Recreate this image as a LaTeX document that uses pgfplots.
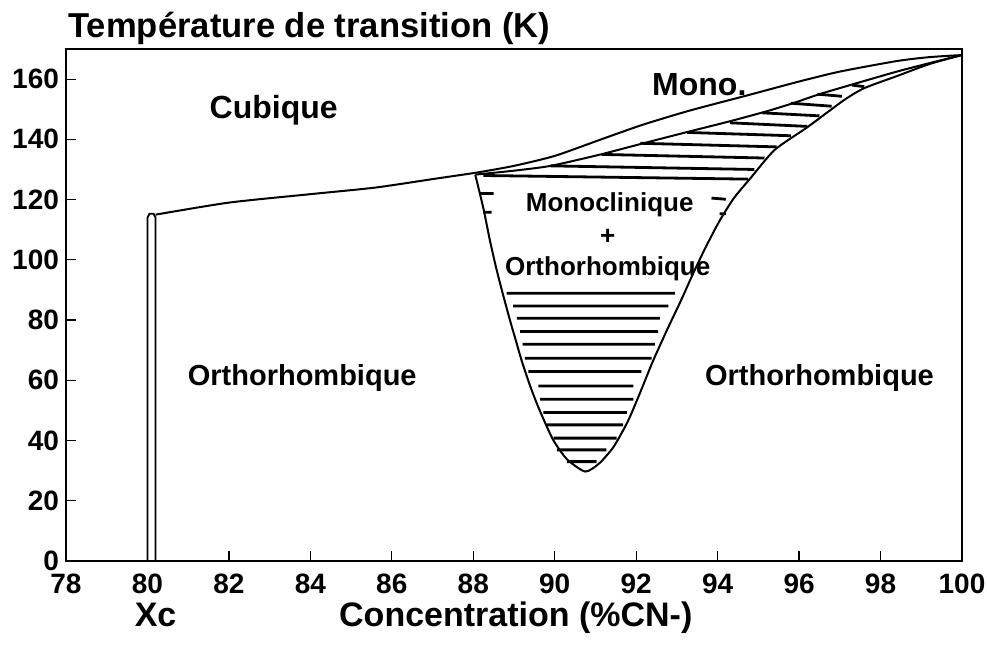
\documentclass[border=0pt]{standalone}
\usepackage{fontspec}
\setmainfont{Liberation Sans}
\usepackage{pgfplots}
\pgfplotsset{compat=1.18}

\newcommand{\fs}[1]{\fontsize{#1}{#1}\selectfont}

\begin{document}
\begin{tikzpicture}
\begin{axis}[
  scale only axis,
  width=448pt, height=256pt,
  xmin=78, xmax=100, ymin=0, ymax=170,
  xtick={78,80,...,100}, ytick={0,20,...,160},
  xtick pos=bottom, ytick pos=left,
  tick align=inside, major tick length=5pt,
  axis line style={line width=0.6pt},
  tick style={line width=0.6pt, black},
  /pgf/number format/assume math mode=true,
  ticklabel style={font=\bfseries\fs{14}},
  xticklabel style={yshift=-3pt},
  clip=false,
  every axis title shift=0pt,
  title={Température de transition (K)},
  title style={at={(0,1)}, anchor=base west, yshift=5.5pt, xshift=1pt,
    inner sep=0pt, font=\bfseries\fs{17.3}},
  xlabel={Concentration (\%CN-)},
  xlabel style={at={(axis description cs:0.502,0)}, anchor=base,
    yshift=-32.5pt, inner sep=0pt, font=\bfseries\fs{17}},
]
% Xc double line
\addplot[black, line width=0.9pt] coordinates {
  (80.0,0) (80.0,114) (80.05,115.3) (80.15,115.3) (80.2,114) (80.2,0)
};
% cubic boundary
\addplot[black, line width=1pt, smooth, tension=0.4] coordinates {
  (80.2,115) (82,119) (84,121.8) (85.6,124) (87.1,127) (88.1,129)
  (89,131.2) (90,134.5) (91.1,139.8) (92.15,144.8) (93.3,149.5)
  (94.7,154.5) (96,159.2) (97,162.5) (98.4,166) (99.2,167.3) (100,168)
};
% lower limit of monoclinic
\addplot[black, line width=1pt, smooth, tension=0.4] coordinates {
  (88.05,128.3) (89,129.6) (89.9,131.2) (91.1,134.9) (92.15,138.6)
  (93.3,142.6) (94.3,146) (95.2,149.3) (95.85,152) (96.5,155)
  (97.3,158.2) (98.4,162.5) (99.2,165.3) (100,168)
};
% two-phase region boundary
\addplot[black, line width=1pt, smooth, tension=0.4] coordinates {
  (88.05,128.2) (88.25,117) (88.4,107) (88.55,98) (88.7,90) (88.9,80)
  (89.05,73) (89.2,66) (89.4,58) (89.6,51) (89.95,40.5) (90.3,33.8)
  (90.75,29.7) (91.1,32.5) (91.45,38) (91.8,46.5) (92.1,56) (92.4,66)
  (92.75,76.5) (93.1,86.5) (93.4,95.5) (93.7,104) (94.05,113)
  (94.4,120.5) (94.8,127) (95.4,136.5) (96.2,144) (97.1,153)
  (97.6,157) (98.4,161) (99.2,165) (100,168)
};
% hatching
\addplot[black, line width=1.4pt, unbounded coords=jump] coordinates {
  (88.25,128) (94.75,126.8) (0,nan)
  (89.9,131.2) (94.9,130) (0,nan)
  (91.15,135) (95.15,133.8) (0,nan)
  (92.1,138.7) (95.45,137.5) (0,nan)
  (93.25,142.3) (95.8,141.2) (0,nan)
  (94.3,145.5) (96.2,144.3) (0,nan)
  (95.1,148.8) (96.5,147.8) (0,nan)
  (95.8,152) (96.8,151) (0,nan)
  (96.45,155) (97.05,154.3) (0,nan)
  (97.3,158) (97.6,157.5) (0,nan)
  (88.17,122) (88.5,122) (0,nan)
  (88.25,115.8) (88.45,115.8) (0,nan)
  (93.85,120.5) (94.2,120.1) (0,nan)
  (94.05,115.3) (94.2,115.3) (0,nan)
  (88.82,88.9) (92.95,88.9) (0,nan)
  (88.98,84.7) (92.79,84.7) (0,nan)
  (89.07,80.6) (92.58,80.6) (0,nan)
  (89.15,76.2) (92.54,76.2) (0,nan)
  (89.21,72.0) (92.46,72.0) (0,nan)
  (89.27,67.3) (92.38,67.3) (0,nan)
  (89.35,62.9) (92.13,62.9) (0,nan)
  (89.6,58.1) (91.93,58.1) (0,nan)
  (89.64,53.7) (91.93,53.7) (0,nan)
  (89.72,49.3) (91.77,49.3) (0,nan)
  (89.8,45.2) (91.68,45.2) (0,nan)
  (89.97,40.8) (91.52,40.8) (0,nan)
  (90.05,36.9) (91.27,36.9) (0,nan)
  (90.3,33.0) (91.03,33.0)
};
% labels
\node[font=\bfseries\fs{16}] at (axis cs:83.1,149.8) {Cubique};
\node[font=\bfseries\fs{16}] at (axis cs:93.55,158) {Mono.};
\node[font=\bfseries\fs{13}] at (axis cs:91.35,118.3) {Monoclinique};
\node[font=\bfseries\fs{13}] at (axis cs:91.3,107.6) {+};
\node[font=\bfseries\fs{13}] at (axis cs:91.3,97) {Orthorhombique};
\node[font=\bfseries\fs{14.5}] at (axis cs:83.8,60.8) {Orthorhombique};
\node[font=\bfseries\fs{14.5}] at (axis cs:96.5,60.8) {Orthorhombique};
\node[font=\bfseries\fs{17}, anchor=base, inner sep=0pt] at (axis cs:80.2,0) [yshift=-32.5pt] {Xc};
\coordinate (bbsw) at (rel axis cs:0,0);
\coordinate (bbne) at (rel axis cs:1,1);
\end{axis}
\pgfresetboundingbox
\path[use as bounding box] ([xshift=-33pt,yshift=-43.5pt]bbsw) rectangle ([xshift=12.5pt,yshift=24.5pt]bbne);
\end{tikzpicture}
\end{document}
